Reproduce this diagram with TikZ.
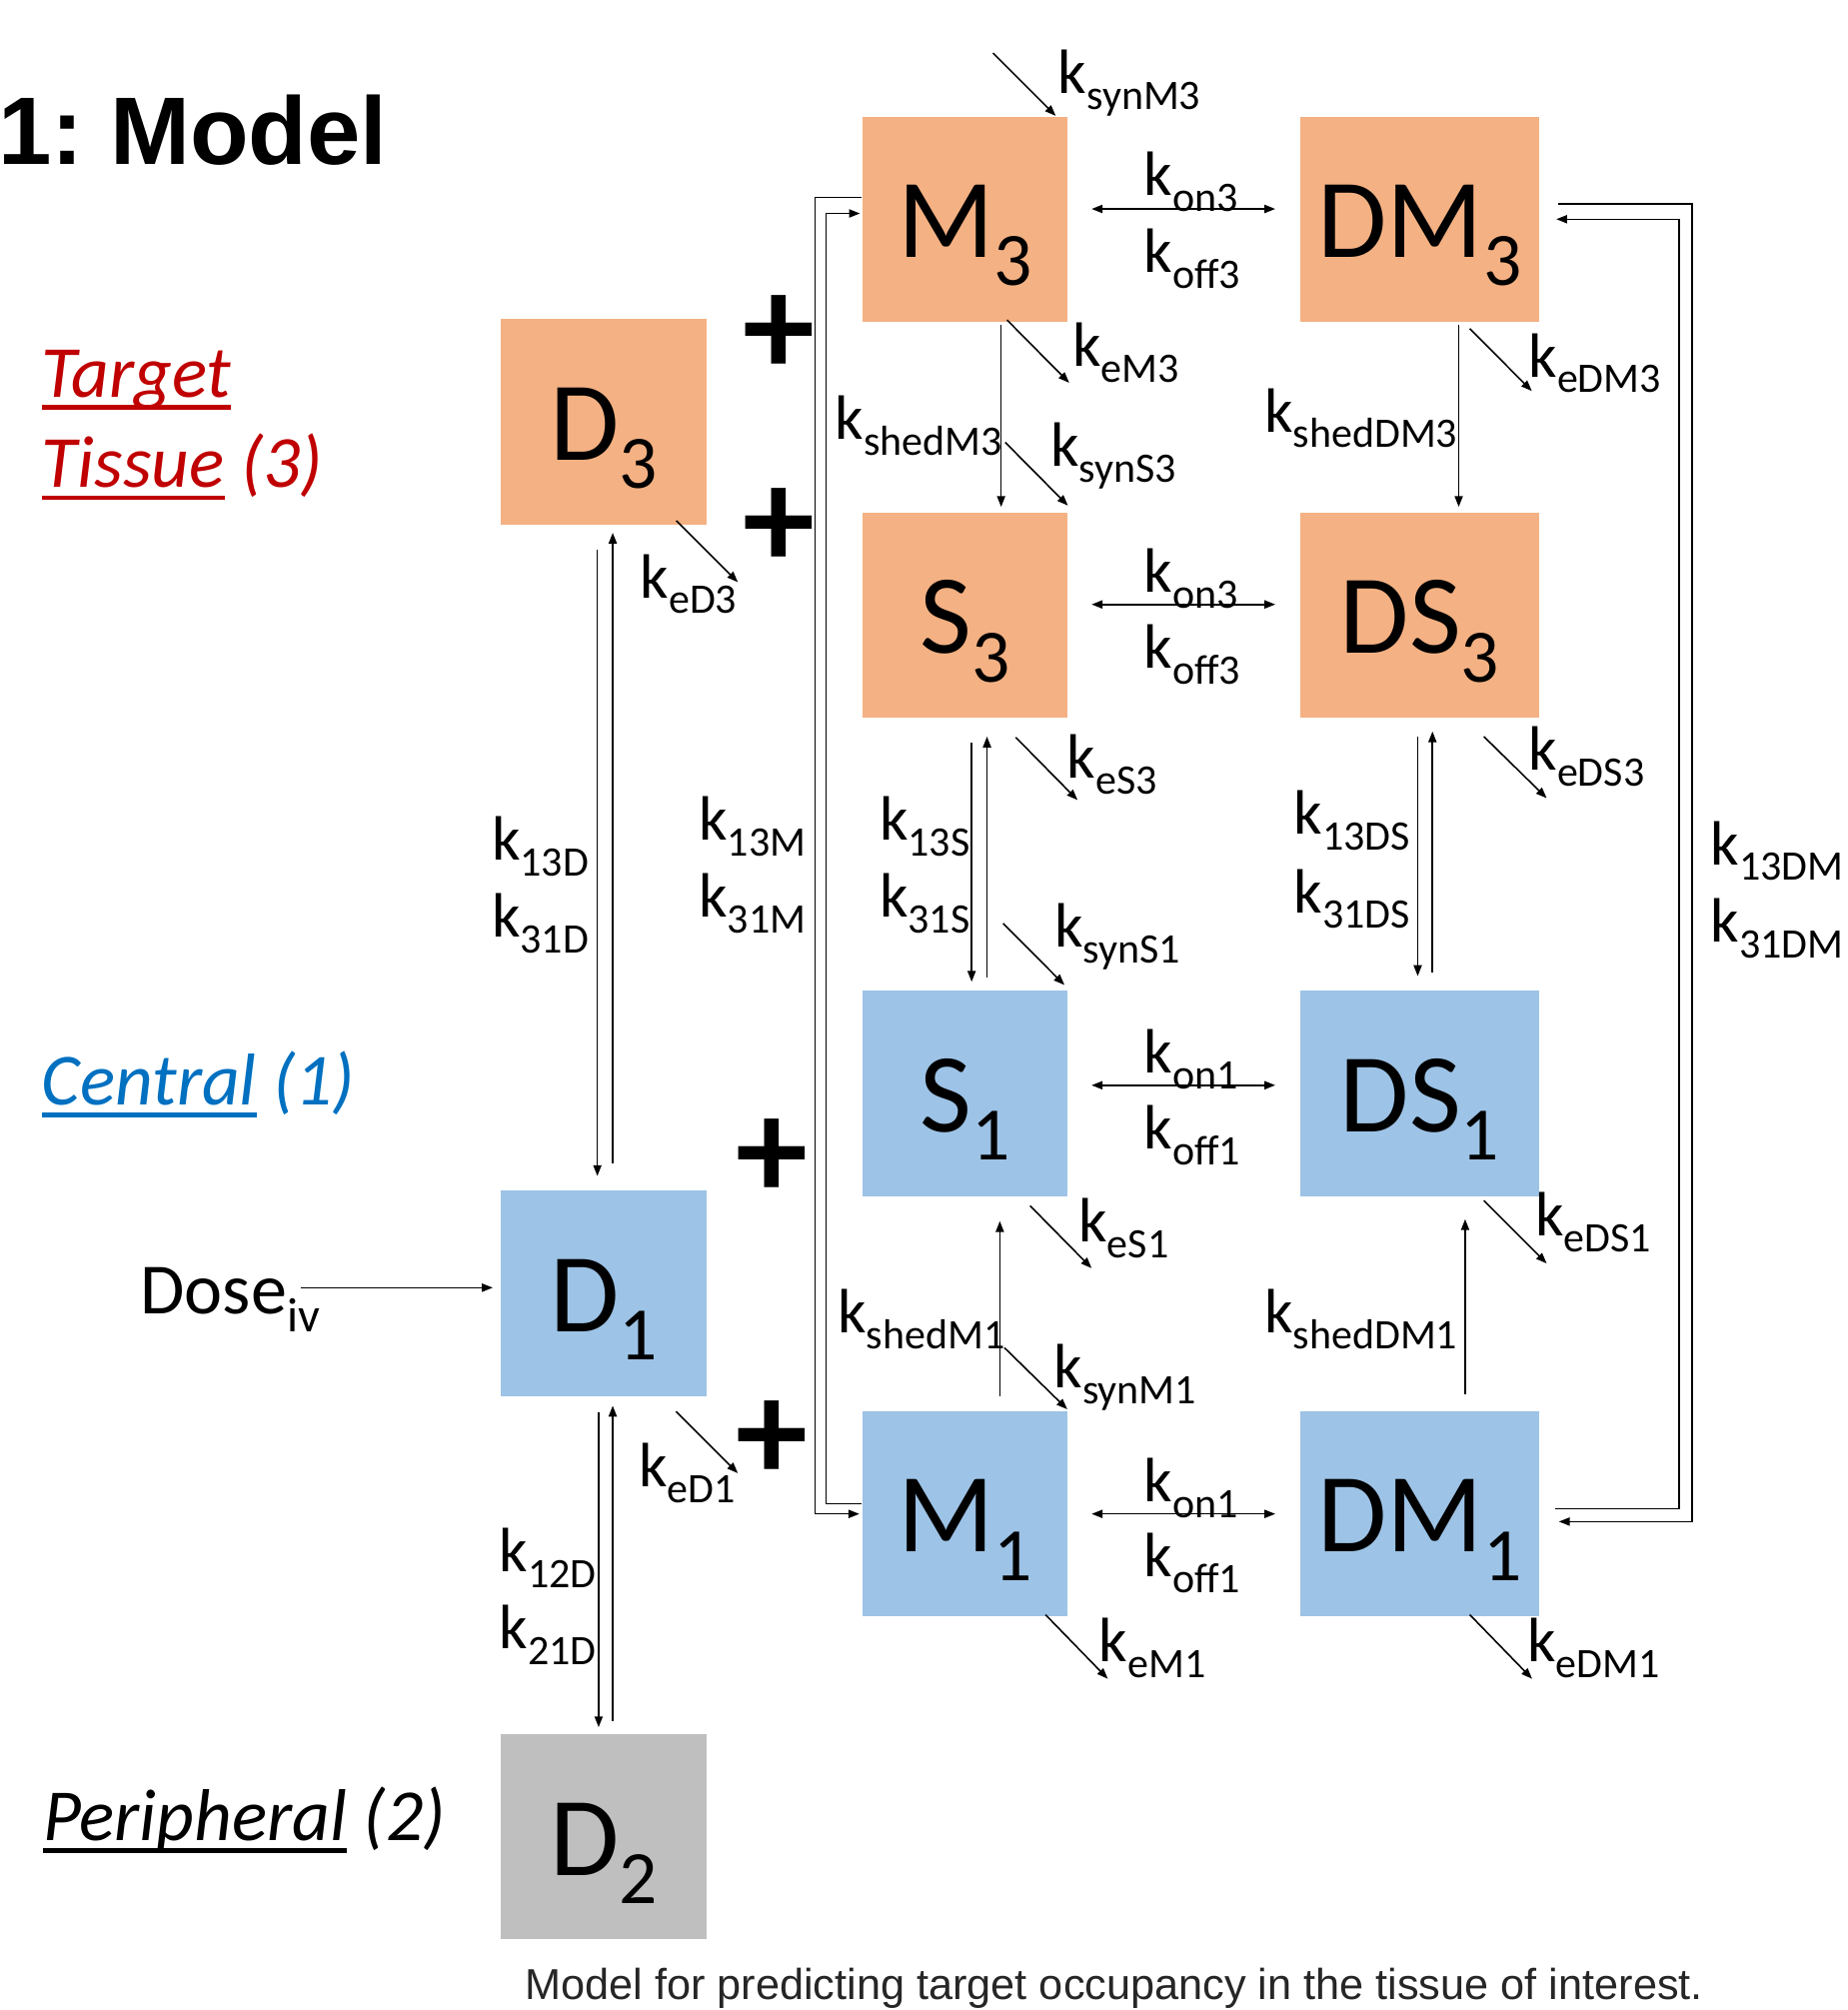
\documentclass[tikz,border=0pt]{standalone}
\usepackage{fontspec}
\setmainfont{Carlito}
\newfontfamily\arialfont{Liberation Sans}
\usepackage{graphicx}
\usetikzlibrary{arrows.meta}

\definecolor{tissue}{HTML}{F4B183}
\definecolor{central}{HTML}{9DC3E6}
\definecolor{periph}{HTML}{BFBFBF}
\definecolor{tissuered}{HTML}{C00000}
\definecolor{centralblue}{HTML}{0070C0}

\newcommand{\lowsub}[1]{\raisebox{-0.25em}{\scalebox{0.67}{#1}}}
\newsavebox{\undrbox}
\newcommand{\undr}[1]{\sbox\undrbox{#1}\rlap{\rule[-0.17em]{\wd\undrbox}{0.065em}}\usebox\undrbox}

\tikzset{
	comp/.style={minimum width=1.6cm, minimum height=1.6cm, inner sep=0pt, text height=17pt, text depth=0pt, font=\fontsize{25}{30}\selectfont},
	tiss/.style={comp, fill=tissue},
	cent/.style={comp, fill=central},
	peri/.style={comp, fill=periph},
	rate/.style={anchor=base west, inner sep=0pt, font=\fontsize{13.9}{17}\selectfont},
	region/.style={anchor=base west, inner sep=0pt, font=\fontsize{16.3}{19}\selectfont\itshape},
	plus/.style={inner sep=0pt, font=\fontsize{32}{38}\selectfont\bfseries},
}

\begin{document}
\begin{tikzpicture}[>={Triangle[length=2.4pt,width=1.8pt]}, ->, line width=0.35pt]
	\useasboundingbox (0,0) rectangle (14.41,-15.68);

	\node[anchor=base west, inner sep=0pt, font=\arialfont\fontsize{21.3}{25}\selectfont\bfseries] (title) at (-0.02,-1.283) {1:\ Model};

	\node[region, text=tissuered] (target) at (0.32,-3.10) {\undr{Target}};
	\node[region, text=tissuered] (tissuelbl) at (0.32,-3.805) {\undr{Tissue} (3)};
	\node[region, text=centralblue] (central) at (0.32,-8.62) {\undr{Central} (1)};
	\node[region] (peripheral) at (0.33,-14.36) {\undr{Peripheral} (2)};

	\node[tiss] (D3) at (4.71,-3.29) {D\lowsub{3}};
	\node[cent] (D1) at (4.71,-10.09) {D\lowsub{1}};
	\node[peri] (D2) at (4.71,-14.33) {D\lowsub{2}};
	\node[tiss] (M3) at (7.53,-1.71) {M\lowsub{3}};
	\node[tiss, minimum width=1.87cm] (DM3) at (11.075,-1.71) {DM\lowsub{3}};
	\node[tiss] (S3) at (7.53,-4.80) {S\lowsub{3}};
	\node[tiss, minimum width=1.87cm] (DS3) at (11.075,-4.80) {DS\lowsub{3}};
	\node[cent] (S1) at (7.53,-8.53) {S\lowsub{1}};
	\node[cent, minimum width=1.87cm] (DS1) at (11.075,-8.53) {DS\lowsub{1}};
	\node[cent] (M1) at (7.53,-11.81) {M\lowsub{1}};
	\node[cent, minimum width=1.87cm] (DM1) at (11.075,-11.81) {DM\lowsub{1}};

	\node[plus] (plus1) at (6.08,-2.62) {+};
	\node[plus] (plus2) at (6.08,-4.12) {+};
	\node[plus] (plus3) at (6.02,-9.04) {+};
	\node[plus] (plus4) at (6.025,-11.24) {+};

	\node[anchor=base west, inner sep=0pt, font=\fontsize{16}{19}\selectfont] (dose) at (1.09,-10.25) {Dose\lowsub{iv}};
	\draw ([xshift=-1.56cm,yshift=0.045cm]D1.west) -- ([xshift=-0.06cm,yshift=0.045cm]D1.west);

	\draw ([xshift=-0.05cm,yshift=-0.19cm]D3.south) -- ([xshift=-0.05cm,yshift=0.11cm]D1.north);
	\draw ([xshift=0.07cm,yshift=0.21cm]D1.north) -- ([xshift=0.07cm,yshift=-0.06cm]D3.south);
	\draw ([xshift=-0.04cm,yshift=-0.12cm]D1.south) -- ([xshift=-0.04cm,yshift=0.05cm]D2.north);
	\draw ([xshift=0.07cm,yshift=0.10cm]D2.north) -- ([xshift=0.07cm,yshift=-0.07cm]D1.south);
	\draw ([xshift=0.05cm,yshift=-0.19cm]S3.south) -- ([xshift=0.05cm,yshift=0.065cm]S1.north);
	\draw ([xshift=0.17cm,yshift=0.10cm]S1.north) -- ([xshift=0.17cm,yshift=-0.14cm]S3.south);
	\draw ([xshift=-0.015cm,yshift=-0.14cm]DS3.south) -- ([xshift=-0.015cm,yshift=0.11cm]DS1.north);
	\draw ([xshift=0.10cm,yshift=0.14cm]DS1.north) -- ([xshift=0.10cm,yshift=-0.10cm]DS3.south);

	\draw ([xshift=0.28cm,yshift=-0.02cm]M3.south) -- ([xshift=0.28cm,yshift=0.04cm]S3.north);
	\draw ([xshift=0.305cm,yshift=-0.02cm]DM3.south) -- ([xshift=0.305cm,yshift=0.04cm]DS3.north);
	\draw ([xshift=0.27cm,yshift=0.11cm]M1.north) -- ([xshift=0.27cm,yshift=-0.19cm]S1.south);
	\draw ([xshift=0.355cm,yshift=0.13cm]DM1.north) -- ([xshift=0.355cm,yshift=-0.175cm]DS1.south);

	\draw[<->] ([xshift=0.18cm,yshift=0.08cm]M3.east) -- ([xshift=-0.185cm,yshift=0.08cm]DM3.west);
	\draw[<->] ([xshift=0.18cm,yshift=0.085cm]S3.east) -- ([xshift=-0.185cm,yshift=0.085cm]DS3.west);
	\draw[<->] ([xshift=0.18cm,yshift=0.064cm]S1.east) -- ([xshift=-0.185cm,yshift=0.064cm]DS1.west);
	\draw[<->] ([xshift=0.18cm]M1.east) -- ([xshift=-0.185cm]DM1.west);

	\draw ([yshift=0.17cm]M3.west) -- ++(-0.365,0) |- ([xshift=-0.02cm]M1.west);
	\draw ([yshift=0.08cm]M1.west) -- ++(-0.28,0) |- ([xshift=-0.015cm,yshift=0.045cm]M3.west);
	\draw ([xshift=0.14cm,yshift=0.12cm]DM3.east) -- ++(1.045,0) |- ([xshift=0.145cm,yshift=-0.06cm]DM1.east);
	\draw ([xshift=0.115cm,yshift=0.04cm]DM1.east) -- ++(0.97,0) |- ([xshift=0.125cm]DM3.east);

	\draw ([shift={(-0.59,0.49)}]M3.north east) -- ([shift={(-0.10,0)}]M3.north east);
	\draw ([shift={(-0.48,0.02)}]M3.south east) -- ([shift={(0.005,-0.47)}]M3.south east);
	\draw ([shift={(-0.55,-0.047)}]DM3.south east) -- ([shift={(-0.066,-0.534)}]DM3.south east);
	\draw ([shift={(-0.494,0.543)}]S3.north east) -- ([shift={(-0.005,0.05)}]S3.north east);
	\draw ([shift={(-0.24,0.035)}]D3.south east) -- ([shift={(0.24,-0.445)}]D3.south east);
	\draw ([shift={(-0.412,-0.146)}]S3.south east) -- ([shift={(0.07,-0.635)}]S3.south east);
	\draw ([shift={(-0.51,0.52)}]S1.north east) -- ([shift={(-0.032,0.04)}]S1.north east);
	\draw ([shift={(-0.44,-0.14)}]DS3.south east) -- ([shift={(0.05,-0.62)}]DS3.south east);
	\draw ([shift={(-0.44,-0.03)}]DS1.south east) -- ([shift={(0.05,-0.52)}]DS1.south east);
	\draw ([shift={(-0.30,-0.07)}]S1.south east) -- ([shift={(0.18,-0.557)}]S1.south east);
	\draw ([shift={(-0.50,0.49)}]M1.north east) -- ([shift={(-0.01,0.01)}]M1.north east);
	\draw ([shift={(-0.18,0.02)}]M1.south east) -- ([shift={(0.306,-0.48)}]M1.south east);
	\draw ([shift={(-0.55,0.02)}]DM1.south east) -- ([shift={(-0.064,-0.48)}]DM1.south east);
	\draw ([shift={(-0.242,-0.115)}]D1.south east) -- ([shift={(0.24,-0.596)}]D1.south east);

	\node[rate] (ksynM3) at (8.25,-0.73) {k\lowsub{synM3}};
	\node[rate] (kon3a) at (8.92,-1.525) {k\lowsub{on3}};
	\node[rate] (koff3a) at (8.92,-2.125) {k\lowsub{off3}};
	\node[rate] (keM3) at (8.36,-2.86) {k\lowsub{eM3}};
	\node[rate] (keDM3) at (11.92,-2.94) {k\lowsub{eDM3}};
	\node[rate] (kshedM3) at (6.51,-3.43) {k\lowsub{shedM3}};
	\node[rate] (ksynS3) at (8.19,-3.64) {k\lowsub{synS3}};
	\node[rate] (kshedDM3) at (9.86,-3.37) {k\lowsub{shedDM3}};
	\node[rate] (keD3) at (4.99,-4.665) {k\lowsub{eD3}};
	\node[rate] (kon3b) at (8.92,-4.62) {k\lowsub{on3}};
	\node[rate] (koff3b) at (8.92,-5.215) {k\lowsub{off3}};
	\node[rate] (keS3) at (8.32,-6.07) {k\lowsub{eS3}};
	\node[rate] (keDS3) at (11.92,-6.01) {k\lowsub{eDS3}};
	\node[rate] (k13D) at (3.83,-6.71) {k\lowsub{13D}};
	\node[rate] (k31D) at (3.83,-7.31) {k\lowsub{31D}};
	\node[rate] (k13M) at (5.446,-6.557) {k\lowsub{13M}};
	\node[rate] (k31M) at (5.446,-7.157) {k\lowsub{31M}};
	\node[rate] (k13S) at (6.856,-6.557) {k\lowsub{13S}};
	\node[rate] (k31S) at (6.856,-7.157) {k\lowsub{31S}};
	\node[rate] (k13DS) at (10.09,-6.51) {k\lowsub{13DS}};
	\node[rate] (k31DS) at (10.09,-7.12) {k\lowsub{31DS}};
	\node[rate] (k13DM) at (13.34,-6.745) {k\lowsub{13DM}};
	\node[rate] (k31DM) at (13.34,-7.35) {k\lowsub{31DM}};
	\node[rate] (ksynS1) at (8.22,-7.39) {k\lowsub{synS1}};
	\node[rate] (kon1a) at (8.92,-8.37) {k\lowsub{on1}};
	\node[rate] (koff1a) at (8.92,-8.965) {k\lowsub{off1}};
	\node[rate] (keS1) at (8.41,-9.69) {k\lowsub{eS1}};
	\node[rate] (keDS1) at (11.97,-9.64) {k\lowsub{eDS1}};
	\node[rate] (kshedM1) at (6.53,-10.40) {k\lowsub{shedM1}};
	\node[rate] (kshedDM1) at (9.86,-10.40) {k\lowsub{shedDM1}};
	\node[rate] (ksynM1) at (8.217,-10.826) {k\lowsub{synM1}};
	\node[rate] (keD1) at (4.98,-11.60) {k\lowsub{eD1}};
	\node[rate] (kon1b) at (8.92,-11.717) {k\lowsub{on1}};
	\node[rate] (koff1b) at (8.92,-12.30) {k\lowsub{off1}};
	\node[rate] (k12D) at (3.89,-12.264) {k\lowsub{12D}};
	\node[rate] (k21D) at (3.89,-12.863) {k\lowsub{21D}};
	\node[rate] (keM1) at (8.57,-12.965) {k\lowsub{eM1}};
	\node[rate] (keDM1) at (11.91,-12.965) {k\lowsub{eDM1}};

	\node[anchor=base west, inner sep=0pt, text=black!85, font=\arialfont\fontsize{9.6}{11}\selectfont] (caption) at (4.09,-15.60) {Model for predicting target occupancy in the tissue of interest.};
\end{tikzpicture}
\end{document}
